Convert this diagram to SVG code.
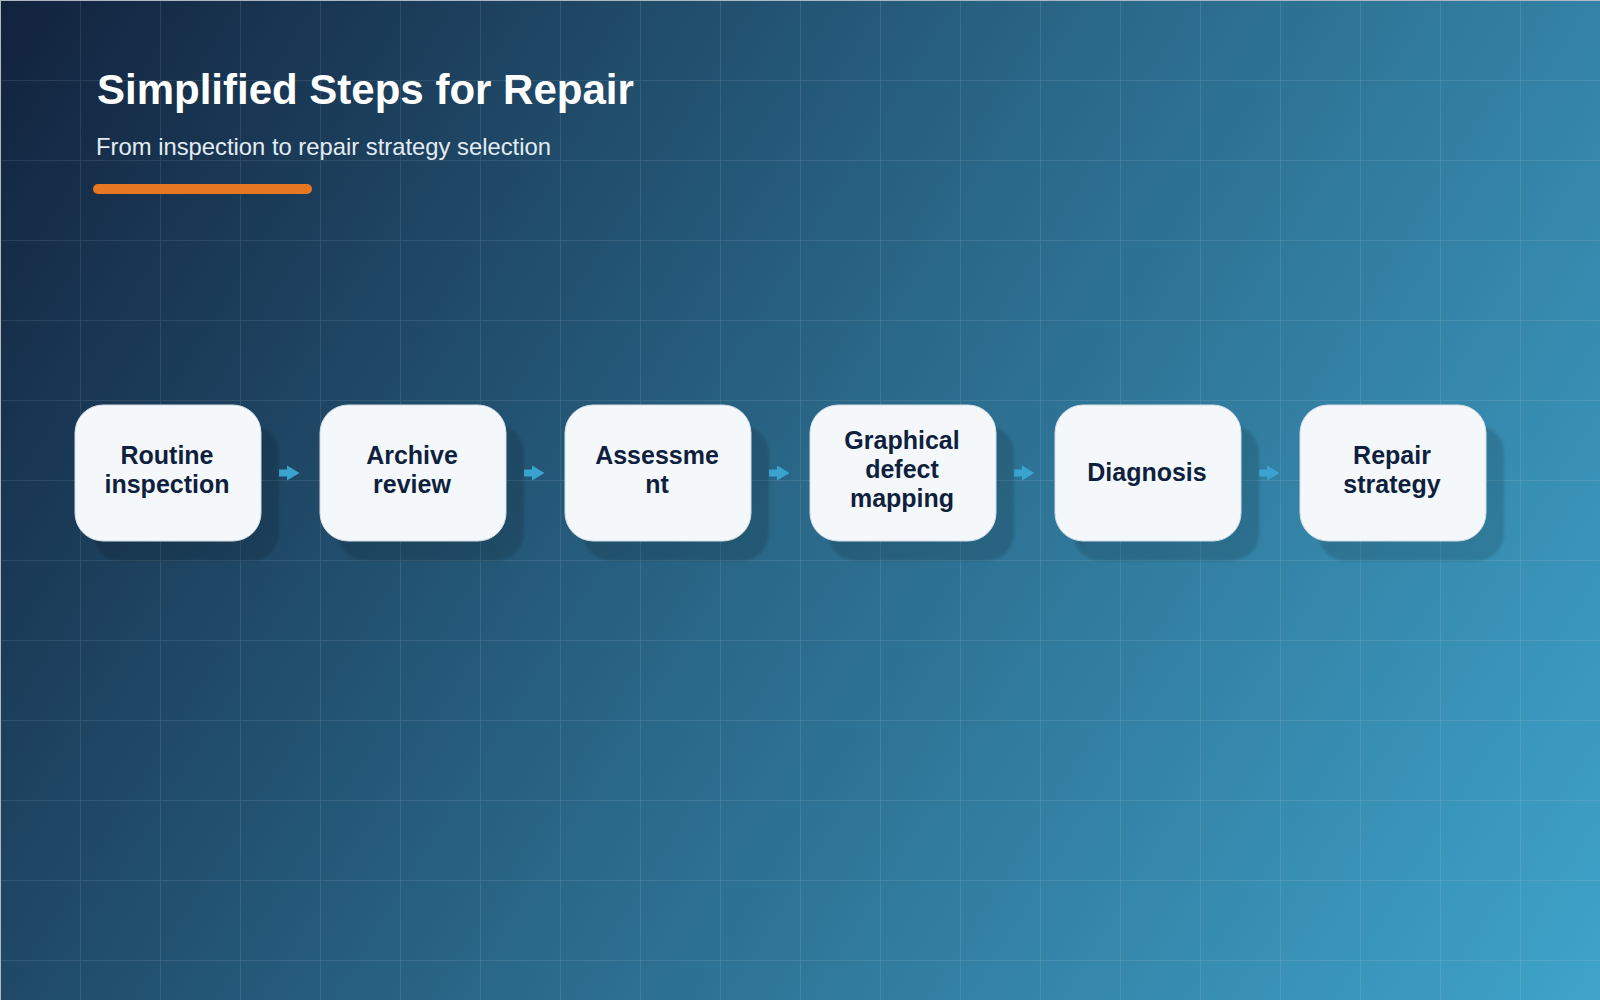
<svg xmlns="http://www.w3.org/2000/svg" width="1600" height="1000" viewBox="0 0 1600 1000">
  <defs>
    <linearGradient id="bg" x1="0" y1="0" x2="1600" y2="1000" gradientUnits="userSpaceOnUse">
      <stop offset="0" stop-color="#12223d"/>
      <stop offset="0.5" stop-color="#2a6889"/>
      <stop offset="1" stop-color="#3fa3ca"/>
    </linearGradient>
    <pattern id="grid" x="0" y="0" width="80" height="80" patternUnits="userSpaceOnUse">
      <path d="M80 0 L0 0 L0 80" fill="none" stroke="#ffffff" stroke-opacity="0.12" stroke-width="1.5"/>
    </pattern>
    <marker id="head" markerUnits="userSpaceOnUse" markerWidth="13" markerHeight="16" refX="0" refY="8" orient="auto">
      <path d="M0 0.5 L12.5 8 L0 15.5 Z" fill="#3aa3cf"/>
    </marker>
    <filter id="soft" x="-20%" y="-20%" width="140%" height="140%">
      <feGaussianBlur stdDeviation="1.5"/>
    </filter>
  </defs>
  <style>
    .title { font-family: "Liberation Sans", Arial, sans-serif; font-weight: bold; font-size: 42px; fill: #ffffff; }
    .sub { font-family: "Liberation Sans", Arial, sans-serif; font-size: 23.8px; fill: #e3ecf4; }
    .shadow { fill: #000000; fill-opacity: 0.14; }
    .box { fill: #f4f8fb; stroke: #d3dde6; stroke-width: 1; }
    .label { font-family: "Liberation Sans", Arial, sans-serif; font-weight: bold; font-size: 25px; fill: #0f1f3d; text-anchor: middle; }
    .conn { stroke: #3aa3cf; stroke-width: 7; fill: none; }
  </style>

  <rect x="0" y="0" width="1600" height="1000" fill="url(#bg)"/>
  <rect x="0" y="0" width="1600" height="1000" fill="url(#grid)"/>
  <line x1="0" y1="0.5" x2="1600" y2="0.5" stroke="#aeb8c2" stroke-width="1"/>
  <line x1="0.5" y1="0" x2="0.5" y2="1000" stroke="#aeb8c2" stroke-width="1"/>

  <g id="header">
    <text class="title" x="97" y="104">Simplified Steps for Repair</text>
    <text class="sub" x="96" y="155">From inspection to repair strategy selection</text>
    <rect x="93" y="184" width="219" height="10" rx="5" fill="#e87722"/>
  </g>

  <g id="connectors">
    <line class="conn" x1="279" y1="473" x2="287" y2="473" marker-end="url(#head)"/>
    <line class="conn" x1="524" y1="473" x2="532" y2="473" marker-end="url(#head)"/>
    <line class="conn" x1="769" y1="473" x2="777" y2="473" marker-end="url(#head)"/>
    <line class="conn" x1="1014" y1="473" x2="1022" y2="473" marker-end="url(#head)"/>
    <line class="conn" x1="1259" y1="473" x2="1267" y2="473" marker-end="url(#head)"/>
  </g>

  <g id="node1">
    <rect class="shadow" x="93" y="425" width="186" height="136" rx="28" filter="url(#soft)"/>
    <rect class="box" x="75" y="405" width="186" height="136" rx="28"/>
    <text class="label" x="167" y="464">Routine</text>
    <text class="label" x="167" y="493">inspection</text>
  </g>
  <g id="node2">
    <rect class="shadow" x="338" y="425" width="186" height="136" rx="28" filter="url(#soft)"/>
    <rect class="box" x="320" y="405" width="186" height="136" rx="28"/>
    <text class="label" x="412" y="464">Archive</text>
    <text class="label" x="412" y="493">review</text>
  </g>
  <g id="node3">
    <rect class="shadow" x="583" y="425" width="186" height="136" rx="28" filter="url(#soft)"/>
    <rect class="box" x="565" y="405" width="186" height="136" rx="28"/>
    <text class="label" x="657" y="464">Assessme</text>
    <text class="label" x="657" y="493">nt</text>
  </g>
  <g id="node4">
    <rect class="shadow" x="828" y="425" width="186" height="136" rx="28" filter="url(#soft)"/>
    <rect class="box" x="810" y="405" width="186" height="136" rx="28"/>
    <text class="label" x="902" y="449">Graphical</text>
    <text class="label" x="902" y="478">defect</text>
    <text class="label" x="902" y="507">mapping</text>
  </g>
  <g id="node5">
    <rect class="shadow" x="1073" y="425" width="186" height="136" rx="28" filter="url(#soft)"/>
    <rect class="box" x="1055" y="405" width="186" height="136" rx="28"/>
    <text class="label" x="1147" y="481">Diagnosis</text>
  </g>
  <g id="node6">
    <rect class="shadow" x="1318" y="425" width="186" height="136" rx="28" filter="url(#soft)"/>
    <rect class="box" x="1300" y="405" width="186" height="136" rx="28"/>
    <text class="label" x="1392" y="464">Repair</text>
    <text class="label" x="1392" y="493">strategy</text>
  </g>
</svg>
